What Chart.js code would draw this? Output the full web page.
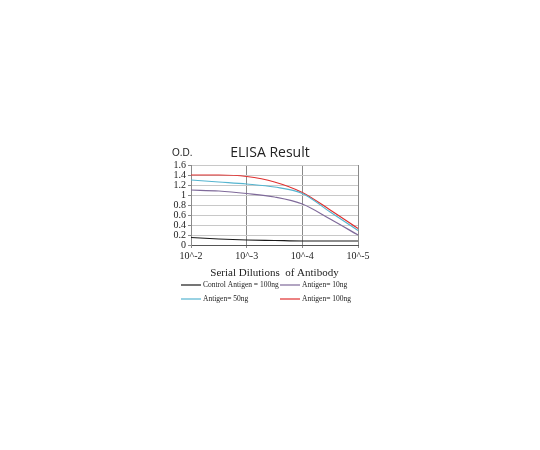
<!DOCTYPE html>
<html>
<head>
<meta charset="utf-8">
<script src="https://cdn.jsdelivr.net/npm/chart.js@4"></script>
<style>
  html, body { margin: 0; padding: 0; background: #fff; }
  #wrap { width: 540px; height: 450px; }
</style>
</head>
<body>
<div id="wrap"><canvas id="elisaChart"></canvas></div>
<script>
// dilution position on the axis (0 = 10^-2 ... 3 = 10^-5)
var dilutions = [0, 0.5, 1, 1.5, 2, 2.5, 3];
var xTickLabels = ['10^-2', '10^-3', '10^-4', '10^-5'];
var yTickLabels = ['0', '0.2', '0.4', '0.6', '0.8', '1', '1.2', '1.4', '1.6'];

var seriesNames = ['Control Antigen = 100ng', 'Antigen= 10ng', 'Antigen= 50ng', 'Antigen= 100ng'];
var control100 = [0.15, 0.12, 0.10, 0.09, 0.08, 0.08, 0.08];
var antigen10  = [1.10, 1.08, 1.03, 0.96, 0.82, 0.52, 0.20];
var antigen50  = [1.30, 1.26, 1.22, 1.16, 1.03, 0.66, 0.29];
var antigen100 = [1.40, 1.40, 1.37, 1.26, 1.05, 0.70, 0.33];
var seriesColors = ['#1a1a1a', '#7f6a9a', '#55b5d0', '#e0302f'];

function points(vals) {
    return vals.map(function (v, i) { return { x: dilutions[i], y: v }; });
}

var allSeries = [control100, antigen10, antigen50, antigen100];
var datasets = allSeries.map(function (vals, i) {
    return {
        label: seriesNames[i],
        data: points(vals),
        borderColor: seriesColors[i],
        borderWidth: 1.2,
        pointRadius: 0,
        tension: 0.4,
        cubicInterpolationMode: 'monotone',
        fill: false,
    };
});

// title, O.D. label and two-column legend
var decorPlugin = {
    id: 'decor',
    afterDraw: function (chart) {
        var c = chart.ctx;
        c.save();
        c.fillStyle = '#222';
        c.textBaseline = 'middle';
        c.font = '14px "Open Sans"';
        c.textAlign = 'center';
        c.fillText('ELISA Result', 270, 153);
        c.font = '10px "Liberation Sans"';
        c.textAlign = 'left';
        c.fillText('O.D.', 172, 153);

        c.font = '7.5px "Liberation Serif"';
        var cols = [181, 280];
        var rows = [285, 299];
        chart.data.datasets.forEach(function (ds, i) {
            var lx = cols[i % 2];
            var ly = rows[Math.floor(i / 2)];
            c.strokeStyle = ds.borderColor;
            c.lineWidth = 1.2;
            c.beginPath();
            c.moveTo(lx, ly);
            c.lineTo(lx + 20, ly);
            c.stroke();
            c.fillStyle = '#222';
            c.fillText(ds.label, lx + 22, ly);
        });
        c.restore();
    }
};

var ctx = document.getElementById('elisaChart').getContext('2d');
var elisaChart = new Chart(ctx, {
    type: 'line',
    data: { datasets: datasets },
    options: {
        responsive: true,
        maintainAspectRatio: false,
        animation: false,
        layout: {
            padding: { left: 165, right: 182, top: 165, bottom: 170 }
        },
        scales: {
            x: {
                type: 'linear',
                min: 0,
                max: 3,
                afterFit: function (scale) { scale.height = 35; },
                afterBuildTicks: function (scale) {
                    scale.ticks = [0, 1, 2, 3].map(function (v) { return { value: v }; });
                },
                grid: {
                    color: function (c) { return c.tick && c.tick.value === 0 ? 'transparent' : '#8a8a8a'; },
                    lineWidth: 1,
                    tickLength: 3,
                    tickColor: '#8a8a8a',
                },
                border: { color: '#555', width: 1 },
                ticks: {
                    color: '#222',
                    padding: 2,
                    maxRotation: 0,
                    autoSkip: false,
                    font: { family: 'Liberation Serif', size: 10 },
                    callback: function (v) { return xTickLabels[v]; },
                },
                title: {
                    display: true,
                    text: 'Serial Dilutions  of Antibody',
                    color: '#222',
                    padding: 0,
                    font: { family: 'Liberation Serif', size: 11 },
                },
            },
            y: {
                min: 0,
                max: 1.6,
                afterFit: function (scale) { scale.width = 26; },
                afterBuildTicks: function (scale) {
                    scale.ticks = yTickLabels.map(function (t, i) { return { value: i * 0.2 }; });
                },
                grid: {
                    color: '#c8c8c8',
                    lineWidth: 1,
                    tickLength: 3,
                    tickColor: '#8a8a8a',
                },
                border: { color: '#8a8a8a', width: 1 },
                ticks: {
                    color: '#222',
                    padding: 2,
                    autoSkip: false,
                    font: { family: 'Liberation Serif', size: 10 },
                    callback: function (v, i) { return yTickLabels[i]; },
                },
            },
        },
        plugins: {
            legend: { display: false },
            tooltip: { enabled: false },
        }
    },
    plugins: [decorPlugin]
});
</script>
</body>
</html>
